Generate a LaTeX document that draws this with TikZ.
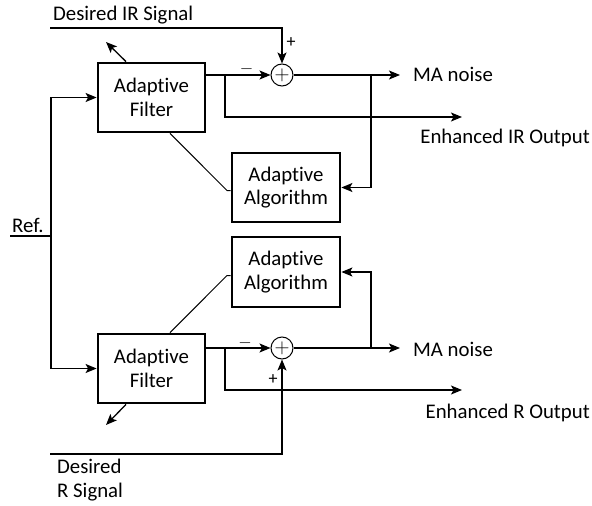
\documentclass[tikz,border=0pt]{standalone}
\usepackage{fontspec}
\setmainfont{Carlito}[Ligatures=NoCommon]
\usetikzlibrary{arrows.meta,calc}
\tikzset{
  blk/.style={draw, line width=2.8pt, minimum width=107pt, minimum height=69pt,
    inner sep=0pt, align=center, font=\fontsize{20.8}{23.5}\selectfont},
  sumnode/.style={draw, circle, line width=1pt, minimum size=22pt, inner sep=0pt,
    font=\fontsize{20}{20}\selectfont},
  wire/.style={line width=1.3pt},
  arr/.style={wire, -{Stealth[length=11pt,width=9pt,inset=2.5pt]}},
  lbl/.style={font=\fontsize{20.8}{23.5}\selectfont, inner sep=0pt},
  sgn/.style={font=\fontsize{18}{18}\selectfont, inner sep=0pt},
}
\begin{document}
\begin{tikzpicture}[x=1pt,y=-1pt]
\useasboundingbox (0,0) rectangle (592,506);

% blocks of the IR channel
\node[blk] (fIR) at (151.5,97.5) {Adaptive\\Filter};
\node[blk, minimum width=108pt] (aIR) at (286,187.5) {Adaptive\\Algorithm};
\node[sumnode] (sIR) at (282,75) {$+$};

% blocks of the R channel
\node[blk, minimum width=108pt, minimum height=70pt] (aR) at (286,272) {Adaptive\\Algorithm};
\node[blk] (fR) at (151.5,368.5) {Adaptive\\Filter};
\node[sumnode] (sR) at (282,348) {$+$};

% labels
\node[lbl, anchor=west] (dIR) at (53,15) {Desired IR Signal};
\node[lbl, anchor=west] (maIR) at (413,74) {MA noise};
\node[lbl, anchor=east] (eIR) at (590,138) {Enhanced IR Output};
\node[lbl, anchor=west] (ref) at (12,225) {Ref.};
\node[lbl, anchor=west] (maR) at (413,349) {MA noise};
\node[lbl, anchor=east] (eR) at (590,413) {Enhanced R Output};
\node[lbl, anchor=north west, align=left] (dR) at (57,459) {Desired\\R Signal};

% sign marks at the summing junctions
\node[sgn] (pIR) at (291,43) {+};
\node[sgn] (mIR) at (246.5,69) {$-$};
\node[sgn] (mR) at (245,343) {$-$};
\node[sgn] (pR) at (273,380) {+};

% end points of the open connectors
\coordinate (dIRs) at (50,28);
\coordinate (dRs) at (50,454);
\coordinate (refs) at (10,236);
\coordinate (bus) at (51,236);
\coordinate (oIR) at (462,117);
\coordinate (oR) at (462,390);
\coordinate (nIR) at (400,75);
\coordinate (nR) at (400,348);
\coordinate (wIR) at (106,42);
\coordinate (wR) at (106,425);

% reference input
\draw[wire] (refs) -- (bus);
\draw[arr] (bus) |- (fIR.west);
\draw[arr] (bus) |- (fR.west);

% IR channel
\draw[arr] (dIRs) -| (sIR.north);
\draw[arr] (fIR.east |- sIR) -- (sIR.west);
\draw[arr] (sIR.east) -- (nIR);
\draw[arr] (225,75) |- (oIR);
\draw[arr] (371,75) |- (aIR.east);
\draw[wire, line width=1pt] ($(fIR.south)+(18.5,0)$) -- (227,190.5) -- (aIR.west |- 0,190.5);
\draw[arr] ($(fIR.north)+(-25.5,0)$) -- (wIR);

% R channel
\draw[arr] (dRs) -| (sR.south);
\draw[arr] (fR.east |- sR) -- (sR.west);
\draw[arr] (sR.east) -- (nR);
\draw[arr] (225,348) |- (oR);
\draw[arr] (371,348) |- (aR.east);
\draw[wire, line width=1pt] ($(fR.north)+(18.5,0)$) -- (227,275.5) -- (aR.west |- 0,275.5);
\draw[arr] ($(fR.south)+(-25.5,0)$) -- (wR);
\end{tikzpicture}
\end{document}
